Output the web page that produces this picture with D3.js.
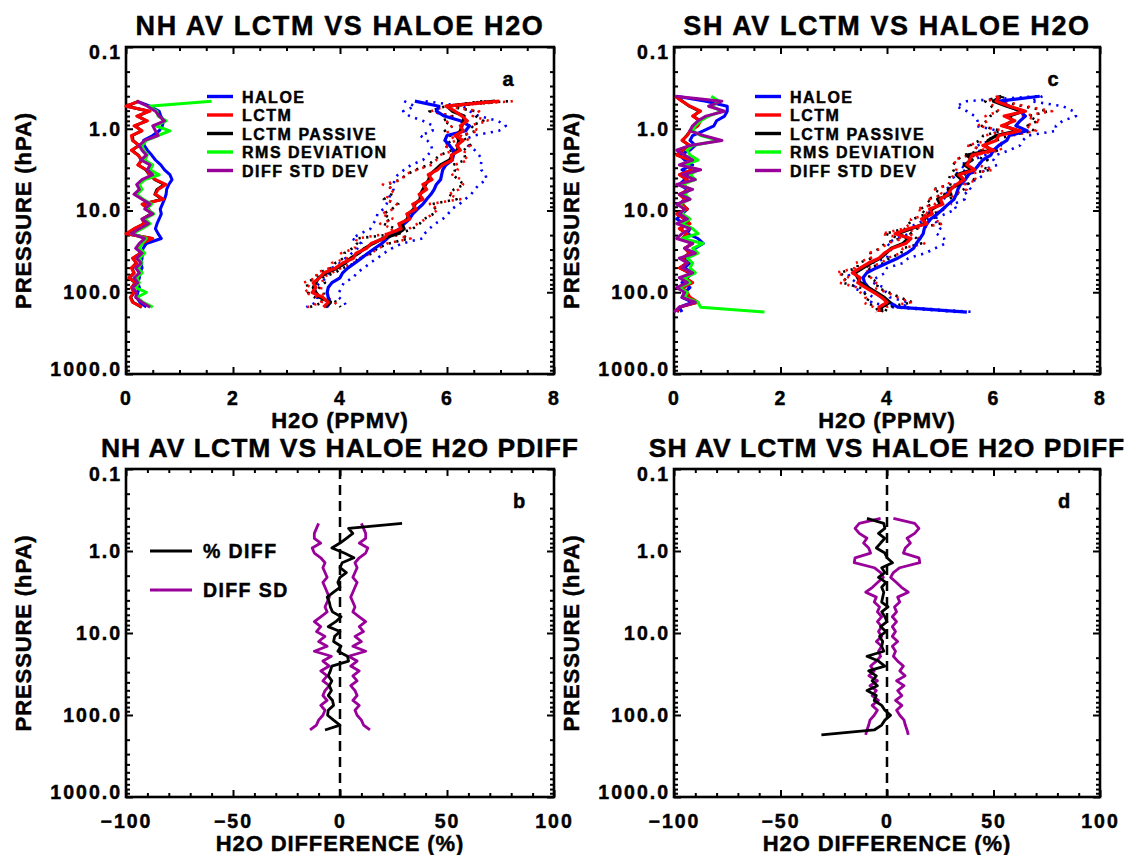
<!DOCTYPE html>
<html>
<head>
<meta charset="utf-8" />
<title>LCTM vs HALOE H2O</title>
<script src="https://cdn.jsdelivr.net/npm/d3@7"></script>
<style>
html, body { margin:0; padding:0; background:#ffffff; }
svg { font-family: 'Liberation Sans', Arial, Helvetica, sans-serif; font-weight:bold; }
svg text { stroke:#000; stroke-width:0.45px; }
</style>
</head>
<body>
<script>

//=======================================
// data  (pressure in hPa, H2O in ppmv, diff in %)
//=======================================

let nhLevels = [0.46,0.53,0.61,0.70,0.80,0.92,1.06,1.21,1.39,1.60,1.83,2.10,2.41,2.77,3.18,3.65,4.19,4.81,5.52,6.34,7.28,8.36,9.60,11.0,12.7,14.5,16.7,19.2,22.0,25.3,29.0,33.3,38.3,43.9,50.4,57.9,66.5,76.3,87.6,100.6,115.5,132.6,152.2];
let shLevels = [0.40,0.46,0.53,0.61,0.70,0.80,0.92,1.06,1.21,1.39,1.60,1.83,2.10,2.41,2.77,3.18,3.65,4.19,4.81,5.52,6.34,7.28,8.36,9.60,11.0,12.7,14.5,16.7,19.2,22.0,25.3,29.0,33.3,38.3,43.9,50.4,57.9,66.5,76.3,87.6,100.6,115.5,132.6,152.2,174.8];

// NH profiles
let nhHaloe   = [5.40,5.85,5.80,5.95,6.25,6.42,6.35,6.00,5.96,6.05,6.12,6.12,6.10,5.98,5.92,5.90,5.88,5.80,5.76,5.70,5.62,5.55,5.45,5.36,5.30,5.20,5.12,4.98,4.88,4.78,4.65,4.52,4.40,4.28,4.15,4.05,4.00,3.85,3.78,3.76,3.78,3.82,3.75];
let nhLctm    = [6.98,5.98,6.15,6.28,6.38,6.25,6.30,6.15,6.30,6.18,6.25,6.08,6.10,5.92,5.82,5.65,5.72,5.55,5.62,5.48,5.55,5.36,5.42,5.25,5.30,5.10,5.14,4.90,4.82,4.58,4.50,4.30,4.25,4.05,3.92,3.70,3.62,3.50,3.55,3.48,3.68,3.78,3.69];
let nhPassive = [6.90,6.00,6.10,6.32,6.30,6.28,6.25,6.18,6.22,6.20,6.20,6.10,6.05,5.88,5.78,5.68,5.66,5.60,5.55,5.50,5.50,5.40,5.38,5.28,5.26,5.15,5.20,5.08,4.80,4.62,4.46,4.35,4.20,4.10,3.95,3.75,3.60,3.55,3.50,3.55,3.62,3.82,3.72];
let nhHaloeSd   = [0.20,0.45,0.62,0.65,0.70,0.68,0.62,0.50,0.33,0.34,0.40,0.48,0.55,0.65,0.72,0.82,0.86,0.80,0.76,0.75,0.72,0.68,0.64,0.66,0.62,0.58,0.55,0.60,0.66,0.38,0.32,0.30,0.30,0.28,0.30,0.26,0.25,0.22,0.25,0.22,0.20,0.26,0.38];
let nhLctmSd    = [0.25,0.00,0.45,0.20,0.40,0.15,0.30,0.10,0.12,0.25,0.10,0.22,0.30,0.22,0.38,0.45,0.55,0.75,0.60,0.55,0.70,0.30,0.42,0.48,0.30,0.35,0.15,0.00,0.50,0.30,0.22,0.28,0.12,0.20,0.10,0.15,0.05,0.18,0.10,0.15,0.08,0.12,0.30];
let nhPassiveSd = [0.24,0.02,0.43,0.22,0.38,0.17,0.29,0.12,0.13,0.24,0.11,0.23,0.29,0.23,0.37,0.44,0.54,0.72,0.58,0.54,0.68,0.31,0.41,0.47,0.31,0.34,0.16,0.02,0.48,0.30,0.23,0.27,0.13,0.19,0.11,0.15,0.06,0.17,0.11,0.15,0.09,0.13,0.29];
let nhRms       = [1.60,0.42,0.58,0.60,0.75,0.55,0.82,0.60,0.38,0.30,0.33,0.40,0.35,0.50,0.45,0.62,0.35,0.25,0.30,0.20,0.32,0.48,0.38,0.52,0.35,0.45,0.30,0.12,0.38,0.30,0.25,0.35,0.25,0.30,0.22,0.30,0.20,0.25,0.18,0.38,0.20,0.32,0.50];
let nhDiffSd    = [0.20,0.40,0.55,0.62,0.72,0.50,0.55,0.60,0.35,0.25,0.30,0.38,0.28,0.45,0.40,0.50,0.30,0.20,0.25,0.15,0.30,0.45,0.35,0.50,0.30,0.42,0.25,0.10,0.35,0.25,0.18,0.30,0.20,0.28,0.18,0.25,0.15,0.22,0.12,0.20,0.18,0.30,0.45];
let nhPdiff     = [29,4,6,3,0,-3.8,2,6.5,1,0,3,0,-1,0,-3,-6,-5,-4.5,-3.5,0.5,-2,-5.5,0,-2.5,-3,0.5,-1,3.5,4,-3.8,-4.5,-5.5,-3.8,-5,-4,-5.5,-3.5,-3,-5.5,-5.8,-3,0,-7];
let nhPdiffSd   = [10,11,12,12,9,13,12,9,7,8,7,6,8,7,6,5,6,7,6,9,12,9,11,7,10,6,12,4,8,5,9,6,8,5,7,8,6,9,7,8,10,11,14];

// SH profiles
let shHaloe   = [6.87,6.10,6.30,6.50,6.60,6.50,6.42,6.63,6.30,6.25,6.10,6.00,5.95,5.80,5.72,5.65,5.53,5.47,5.38,5.33,5.30,5.26,5.15,5.05,4.95,4.82,4.75,4.70,4.68,4.62,4.55,4.50,4.37,4.20,4.00,3.80,3.62,3.55,3.58,3.65,3.78,3.90,4.05,4.20,5.50];
let shLctm    = [6.10,6.05,6.30,6.60,6.20,6.40,6.15,6.50,6.10,6.05,5.80,6.00,5.60,5.55,5.50,5.65,5.35,5.45,5.30,5.20,5.15,5.00,5.05,4.80,4.85,4.65,4.75,4.40,4.15,4.45,4.35,4.10,3.95,3.85,3.65,3.50,3.35,3.50,3.45,3.60,3.75,3.90,4.00,3.85,3.85];
let shPassive = [6.15,6.00,6.25,6.55,6.30,6.35,6.20,6.45,6.05,5.90,5.85,5.95,5.50,5.60,5.45,5.60,5.30,5.40,5.35,5.15,5.20,4.95,5.00,4.85,4.80,4.70,4.70,4.45,4.20,4.40,4.30,4.08,3.98,3.88,3.70,3.55,3.40,3.45,3.50,3.65,3.80,3.95,4.05,3.90,3.90];
let shHaloeSd   = [0.05,0.60,1.00,1.00,0.95,0.80,0.75,0.55,0.35,0.30,0.40,0.30,0.10,0.20,0.35,0.15,0.30,0.20,0.10,0.25,0.15,0.20,0.10,0.25,0.15,0.05,0.20,0.30,0.25,0.45,0.55,0.40,0.35,0.20,0.30,0.20,0.35,0.25,0.15,0.30,0.20,0.15,0.35,0.10,0.15];
let shLctmSd    = [0.02,0.15,0.30,0.50,0.35,0.50,0.45,0.30,0.25,0.15,0.30,0.15,0.05,0.30,0.20,0.35,0.10,0.25,0.15,0.30,0.10,0.20,0.15,0.25,0.05,0.20,0.30,0.10,0.25,0.15,0.35,0.20,0.30,0.15,0.25,0.10,0.30,0.20,0.35,0.15,0.25,0.30,0.45,0.10,0.05];
let shPassiveSd = [0.03,0.16,0.29,0.48,0.36,0.48,0.44,0.31,0.24,0.16,0.29,0.16,0.06,0.29,0.21,0.34,0.11,0.24,0.16,0.29,0.11,0.21,0.15,0.24,0.06,0.21,0.29,0.11,0.24,0.16,0.34,0.21,0.29,0.16,0.24,0.11,0.29,0.21,0.34,0.16,0.24,0.29,0.43,0.11,0.06];
let shRms       = [0.70,0.85,0.70,0.90,0.65,0.50,0.40,0.35,0.50,0.85,0.35,0.25,0.30,0.45,0.20,0.45,0.30,0.40,0.15,0.30,0.20,0.30,0.10,0.20,0.15,0.30,0.15,0.35,0.45,0.15,0.55,0.35,0.45,0.25,0.35,0.30,0.40,0.20,0.30,0.10,0.25,0.20,0.45,0.50,1.70];
let shDiffSd    = [0.02,0.90,0.65,0.95,0.60,0.45,0.35,0.30,0.55,0.90,0.30,0.05,0.20,0.35,0.10,0.50,0.15,0.40,0.05,0.35,0.10,0.30,0.05,0.20,0.10,0.25,0.05,0.30,0.15,0.05,0.35,0.20,0.40,0.10,0.25,0.15,0.35,0.10,0.25,0.05,0.20,0.15,0.40,0.10,0.00];
let shPdiff     = [-9.4,-1.5,-1,-4,-1,-3,-5,-1,0,2.6,-2.5,-1,-4,-0.5,-2.5,-1.5,-2,-2.5,0.5,-2.5,-1,0,-3,-0.5,-3.5,-2,-2.5,-1.5,-9.4,-4,-1,-8.6,-5,-7,-4.5,-9.4,-5,-6,-2.5,-1,1.7,-1,-2.5,-6,-30.8];
let shPdiffSd   = [3,13,15,13,9.4,11,8.6,7.7,15,15.4,6,3,1.7,4.3,6.8,10,5,6,3.5,4.5,2.5,4.5,2.5,4,2.5,5,2.5,4,3,5,7.7,6,8.5,4.5,8,5,7,4,7,4.5,6,8,8.6,9.4,10];

// axis ticks and labels
let pressureTicks = [0.1, 1, 10, 100, 1000];
let ppmvTicks = [0, 2, 4, 6, 8];
let pctTicks = [-100, -50, 0, 50, 100];

let legendTop = ['HALOE','LCTM','LCTM PASSIVE','RMS DEVIATION','DIFF STD DEV'];
let legendBottom = ['% DIFF','DIFF SD'];


//=======================================
// layout
//=======================================

const FONT = "'Liberation Sans', Arial, Helvetica, sans-serif";
const C = { blue:'#0000ff', red:'#ff0000', black:'#000000', green:'#00ff00', purple:'#990099' };

let panels = [
	{ key:'a', left:126, right:554, top:47,  bottom:374, xd:[0,8],      xt:ppmvTicks, minor:16, xTitle:'H2O (PPMV)',          title:'NH AV LCTM VS HALOE H2O',       tsize:27,   tspace:1.6, tag:[508,86] },
	{ key:'c', left:674, right:1100, top:47, bottom:374, xd:[0,8],      xt:ppmvTicks, minor:16, xTitle:'H2O (PPMV)',          title:'SH AV LCTM VS HALOE H2O',       tsize:27,   tspace:1.6, tag:[1053,86] },
	{ key:'b', left:126, right:554, top:469, bottom:797, xd:[-100,100], xt:pctTicks,  minor:20, xTitle:'H2O DIFFERENCE (%)',  title:'NH AV LCTM VS HALOE H2O PDIFF', tsize:26.5, tspace:1.0, tag:[519,508] },
	{ key:'d', left:674, right:1100, top:469, bottom:797, xd:[-100,100], xt:pctTicks, minor:20, xTitle:'H2O DIFFERENCE (%)',  title:'SH AV LCTM VS HALOE H2O PDIFF', tsize:26.5, tspace:1.0, tag:[1064,508] },
];

let svg = d3.select('body').append('svg')
	.attr('width',1135).attr('height',855)
	.style('background','#fff');

panels.forEach(p=>{
	p.x = d3.scaleLinear().domain(p.xd).range([p.left, p.right]);
	p.y = d3.scaleLog().domain([0.1,1000]).range([p.top, p.bottom]);
	p.g = svg.append('g').attr('class','panel-'+p.key);
	drawFrame(p);
});

let P = {}; panels.forEach(p=>P[p.key]=p);

drawProfiles(P.a, nhLevels, {haloe:nhHaloe, lctm:nhLctm, passive:nhPassive, haloeSd:nhHaloeSd, lctmSd:nhLctmSd, passiveSd:nhPassiveSd, rms:nhRms, diffSd:nhDiffSd}, 207);
drawProfiles(P.c, shLevels, {haloe:shHaloe, lctm:shLctm, passive:shPassive, haloeSd:shHaloeSd, lctmSd:shLctmSd, passiveSd:shPassiveSd, rms:shRms, diffSd:shDiffSd}, 755);
drawPdiff(P.b, nhLevels, nhPdiff, nhPdiffSd, true);
drawPdiff(P.d, shLevels, shPdiff, shPdiffSd, false);


//====================================================================================
// frame, ticks, labels
//====================================================================================

function drawFrame(p)	{

	let g = p.g, x = p.x, y = p.y;
	let minorY = y.ticks().filter(d=>pressureTicks.indexOf(d)<0 && Math.abs(Math.log10(d)%1)>1e-6);
	let minorX = x.ticks(p.minor).filter(d=>p.xt.indexOf(d)<0);

	let style = sel=>{
		sel.select('.domain').remove();
		sel.selectAll('line').attr('stroke-width',2);
		sel.attr('font-family',FONT).attr('font-size',19.5).attr('font-weight','bold');
		sel.selectAll('text').attr('fill','#000').style('letter-spacing','2px');
	};

	// major
	g.append('g').attr('transform','translate('+[p.left,0]+')')
		.call(d3.axisLeft(y).tickValues(pressureTicks).tickSize(-7).tickPadding(4).tickFormat(d3.format('.1f')))
		.call(style)
		.call(sel=>sel.selectAll('text').attr('dy', d=> d==0.1 ? '0.6em' : d==1000 ? '0.1em' : '0.32em'));
	g.append('g').attr('transform','translate('+[p.right,0]+')')
		.call(d3.axisRight(y).tickValues(pressureTicks).tickSize(-7).tickFormat(''))
		.call(style);
	g.append('g').attr('transform','translate('+[0,p.bottom]+')')
		.call(d3.axisBottom(x).tickValues(p.xt).tickSize(-7).tickPadding(17).tickFormat(d3.format('d')))
		.call(style);
	g.append('g').attr('transform','translate('+[0,p.top]+')')
		.call(d3.axisTop(x).tickValues(p.xt).tickSize(-7).tickFormat(''))
		.call(style);

	// minor
	g.append('g').attr('transform','translate('+[p.left,0]+')')
		.call(d3.axisLeft(y).tickValues(minorY).tickSize(-4).tickFormat('')).call(style);
	g.append('g').attr('transform','translate('+[p.right,0]+')')
		.call(d3.axisRight(y).tickValues(minorY).tickSize(-4).tickFormat('')).call(style);
	g.append('g').attr('transform','translate('+[0,p.bottom]+')')
		.call(d3.axisBottom(x).tickValues(minorX).tickSize(-4).tickFormat('')).call(style);
	g.append('g').attr('transform','translate('+[0,p.top]+')')
		.call(d3.axisTop(x).tickValues(minorX).tickSize(-4).tickFormat('')).call(style);

	g.append('rect')
		.attr('x',p.left).attr('y',p.top)
		.attr('width',p.right-p.left).attr('height',p.bottom-p.top)
		.attr('fill','none').attr('stroke','#000').attr('stroke-width',2.6);

	// titles
	g.append('text')
		.attr('x',(p.left+p.right)/2).attr('y',p.top-12)
		.attr('text-anchor','middle').attr('font-size',p.tsize)
		.style('letter-spacing',p.tspace+'px')
		.text(p.title);

	g.append('text')
		.attr('x',(p.left+p.right)/2).attr('y',p.bottom+54)
		.attr('text-anchor','middle').attr('font-size',22)
		.style('letter-spacing','0.9px')
		.text(p.xTitle);

	g.append('text')
		.attr('transform','translate('+[p.left-95,(p.top+p.bottom)/2]+') rotate(-90)')
		.attr('text-anchor','middle').attr('font-size',22)
		.style('letter-spacing','0.9px')
		.text('PRESSURE (hPA)');

	g.append('text')
		.attr('x',p.tag[0]).attr('y',p.tag[1])
		.attr('text-anchor','middle').attr('font-size',20)
		.text(p.key);
}


//====================================================================================
// top panels : profiles, sd, +/- sd dotted
//====================================================================================

function drawProfiles(p, levels, s, legX)	{

	let line = d3.line().x(d=>p.x(d[0])).y(d=>p.y(d[1]));
	let pts = arr=>arr.map((v,i)=>[v, levels[i]]);
	let band = (m,sd,k)=>m.map((v,i)=>[v + k*sd[i], levels[i]]);

	let g = p.g.append('g').attr('class','profiles')
		.attr('fill','none').attr('stroke-linejoin','round');

	// standard deviations near x=0
	[['passiveSd',C.black],['haloeSd',C.blue],['lctmSd',C.red],['rms',C.green],['diffSd',C.purple]]
		.forEach(([k,c])=>{
			g.append('path').attr('d',line(pts(s[k]))).attr('stroke',c).attr('stroke-width',3);
		});

	// mean +/- sd, dotted
	[['haloe','haloeSd',C.blue],['passive','passiveSd',C.black],['lctm','lctmSd',C.red]]
		.forEach(([m,sd,c])=>{
			[-1,1].forEach(k=>{
				g.append('path').attr('d',line(band(s[m],s[sd],k)))
					.attr('stroke',c).attr('stroke-width',2.6)
					.attr('stroke-dasharray','2.2 5.5');
			});
		});

	// means
	[['haloe',C.blue],['passive',C.black],['lctm',C.red]]
		.forEach(([k,c])=>{
			g.append('path').attr('d',line(pts(s[k]))).attr('stroke',c).attr('stroke-width',3.2);
		});

	// legend
	let rows = [96.5,115,133.5,152,170.5],
			cols = [C.blue,C.red,C.black,C.green,C.purple];

	p.g.append('g').attr('class','legend')
		.selectAll('g').data(legendTop)
			.enter()
				.append('g')
					.call(sel=>{
						sel.append('line')
							.attr('x1',legX).attr('x2',legX+26)
							.attr('y1',(d,i)=>rows[i]).attr('y2',(d,i)=>rows[i])
							.attr('stroke',(d,i)=>cols[i]).attr('stroke-width',3.4);
						sel.append('text')
							.attr('x',legX+35).attr('y',(d,i)=>rows[i]+6)
							.attr('font-size',16)
							.style('letter-spacing','1.5px')
							.text(d=>d);
					});
}


//====================================================================================
// bottom panels : % difference and +/- sd
//====================================================================================

function drawPdiff(p, levels, diff, sd, legend)	{

	let line = d3.line().x(d=>p.x(d[0])).y(d=>p.y(d[1]));

	let g = p.g.append('g').attr('class','pdiff')
		.attr('fill','none').attr('stroke-linejoin','round');

	g.append('line')
		.attr('x1',p.x(0)).attr('x2',p.x(0))
		.attr('y1',p.top).attr('y2',p.bottom)
		.attr('stroke','#000').attr('stroke-width',2.5)
		.attr('stroke-dasharray','10 6');

	[-1,1].forEach(k=>{
		g.append('path').attr('d',line(sd.map((v,i)=>[k*v, levels[i]])))
			.attr('stroke',C.purple).attr('stroke-width',2.8);
	});

	g.append('path').attr('d',line(diff.map((v,i)=>[v, levels[i]])))
		.attr('stroke','#000').attr('stroke-width',2.8);

	if (!legend) return;

	let rows = [551,590], cols = ['#000', C.purple];

	p.g.append('g').attr('class','legend')
		.selectAll('g').data(legendBottom)
			.enter()
				.append('g')
					.call(sel=>{
						sel.append('line')
							.attr('x1',150).attr('x2',192)
							.attr('y1',(d,i)=>rows[i]).attr('y2',(d,i)=>rows[i])
							.attr('stroke',(d,i)=>cols[i]).attr('stroke-width',2.8);
						sel.append('text')
							.attr('x',203).attr('y',(d,i)=>rows[i]+7)
							.attr('font-size',19.5)
							.style('letter-spacing','1.4px')
							.text(d=>d);
					});
}

</script>
</body>
</html>
